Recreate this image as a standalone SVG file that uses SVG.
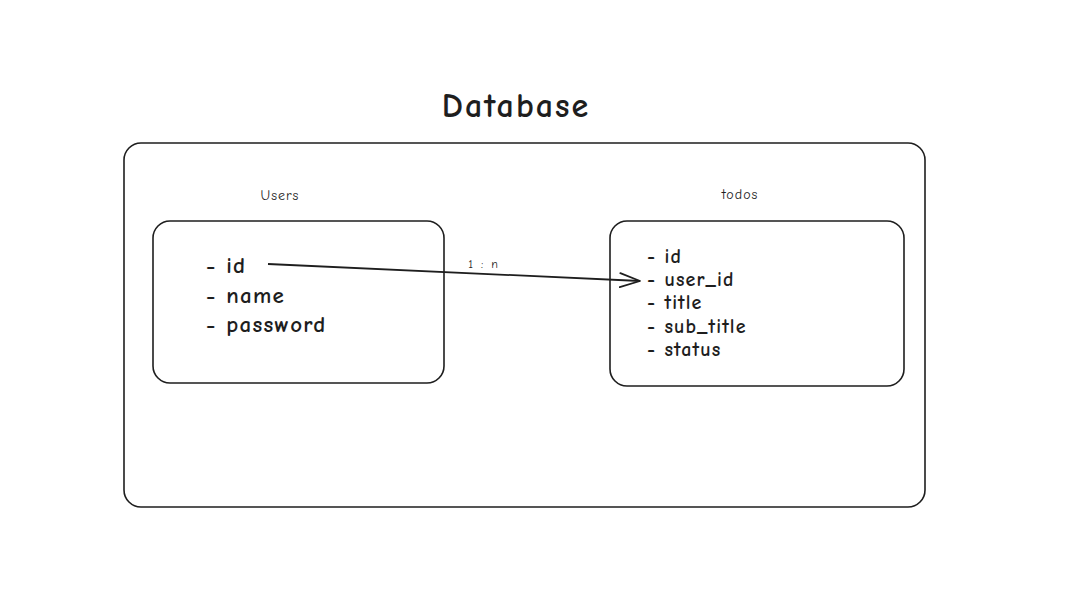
<svg xmlns="http://www.w3.org/2000/svg" width="1090" height="591" viewBox="0 0 1090 591">
<style>
.box{fill:none;stroke:#1e1e1e;stroke-width:1.6}
.t{font-family:"Comic Neue","Noto Sans","DejaVu Sans",sans-serif;fill:#1e1e1e}
.big{font-size:23px;font-weight:bold;letter-spacing:1.3px}
.med{font-size:20px;font-weight:bold;letter-spacing:1.1px}
.small{font-size:14px;letter-spacing:1px}
</style>
<defs>
<marker id="arr" markerWidth="24" markerHeight="20" refX="21" refY="10" orient="auto" markerUnits="userSpaceOnUse">
<path d="M1,3 L21,10 L1,17" fill="none" stroke="#1e1e1e" stroke-width="1.8" stroke-linecap="round" stroke-linejoin="round"/>
</marker>
</defs>
<rect width="1090" height="591" fill="#ffffff"/>
<g id="title">
<text class="t" x="516" y="117" font-size="34" font-weight="bold" letter-spacing="2" text-anchor="middle">Database</text>
</g>
<g id="database">
<rect class="box" x="124" y="143" width="801" height="364" rx="17"/>
</g>
<g id="users">
<text class="t small" x="280" y="200" text-anchor="middle">Users</text>
<rect class="box" x="153" y="221" width="291" height="162" rx="17"/>
<text class="t big" x="206" y="273">- id</text>
<text class="t big" x="206" y="303">- name</text>
<text class="t big" x="206" y="332">- password</text>
</g>
<g id="todos">
<text class="t small" x="740" y="199" text-anchor="middle">todos</text>
<rect class="box" x="610" y="221" width="294" height="165" rx="17"/>
<text class="t med" x="647" y="263">- id</text>
<text class="t med" x="647" y="286">- user_id</text>
<text class="t med" x="647" y="309">- title</text>
<text class="t med" x="647" y="333">- sub_title</text>
<text class="t med" x="647" y="356">- status</text>
</g>
<g id="connectors">
<path d="M268,264 L640,281" fill="none" stroke="#1e1e1e" stroke-width="1.8" marker-end="url(#arr)"/>
<text class="t" x="484" y="268" font-size="12" letter-spacing="2" text-anchor="middle">1 : n</text>
</g>
</svg>
